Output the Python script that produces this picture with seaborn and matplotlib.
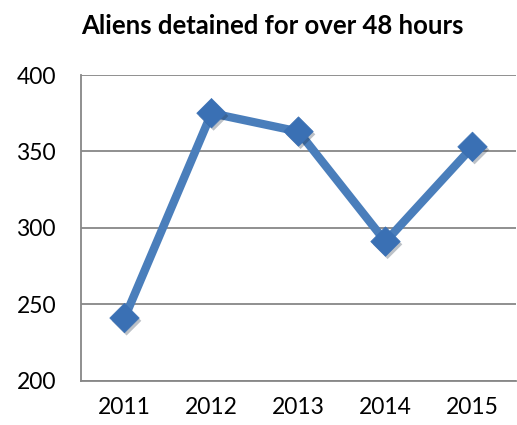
import matplotlib
matplotlib.use("Agg")
import matplotlib.pyplot as plt
import matplotlib.patheffects as pe
import seaborn as sns
import pandas as pd
import numpy as np

years = ["2011", "2012", "2013", "2014", "2015"]
detained = [241, 375, 363, 291, 353]
y_ticks = [200, 250, 300, 350, 400]

sns.set_style("white")
plt.rcParams["font.family"] = ["Lato", "DejaVu Sans"]

df = pd.DataFrame({"year": years, "detained": detained})
df["pos"] = np.arange(len(years))

fig = plt.figure(figsize=(5.17, 4.25), dpi=100)
ax = fig.add_axes([81 / 517, 1 - 380.7 / 425, 435 / 517, (380.7 - 75) / 425])

line_color = "#4A7EBB"
marker_color = "#3A70B4"
sns.lineplot(data=df, x="pos", y="detained", ax=ax, color=line_color,
             linewidth=6, solid_joinstyle="miter")
sns.scatterplot(data=df, x="pos", y="detained", ax=ax, marker="D", s=225,
                color=marker_color, edgecolor=marker_color, linewidth=0.5,
                zorder=3,
                path_effects=[pe.SimplePatchShadow(offset=(1.5, -2.0), alpha=0.28),
                              pe.Normal()])

ax.set_xlim(-0.5, len(years) - 0.5)
ax.set_ylim(200, 400)
ax.set_yticks(y_ticks)
ax.set_yticklabels([str(v) for v in y_ticks], fontsize=16.5, color="black")

# category boundaries get the tick marks, centres get the labels
ax.set_xticks(np.arange(-0.5, len(years), 1.0))
ax.set_xticklabels([])
ax.set_xticks(np.arange(len(years)), minor=True)
ax.set_xticklabels(years, minor=True, fontsize=16.5, color="black")
ax.tick_params(axis="x", which="major", length=6, width=1.3, color="#878787", direction="out")
ax.tick_params(axis="x", which="minor", length=0, pad=12)
ax.tick_params(axis="y", length=6, width=1.3, color="#878787", direction="out", pad=12)

ax.grid(axis="y", color="#878787", linewidth=1.3)
ax.set_axisbelow(True)
for side in ["top", "right"]:
    ax.spines[side].set_visible(False)
for side in ["left", "bottom"]:
    ax.spines[side].set_color("#878787")
    ax.spines[side].set_linewidth(1.3)
ax.set_xlabel("")
ax.set_ylabel("")

fig.text(272 / 517, 1 - 26 / 425, "Aliens detained for over 48 hours",
         ha="center", va="center", fontsize=18.5, fontweight="bold", color="black")

fig.savefig("out.png", dpi=100, facecolor="white")
